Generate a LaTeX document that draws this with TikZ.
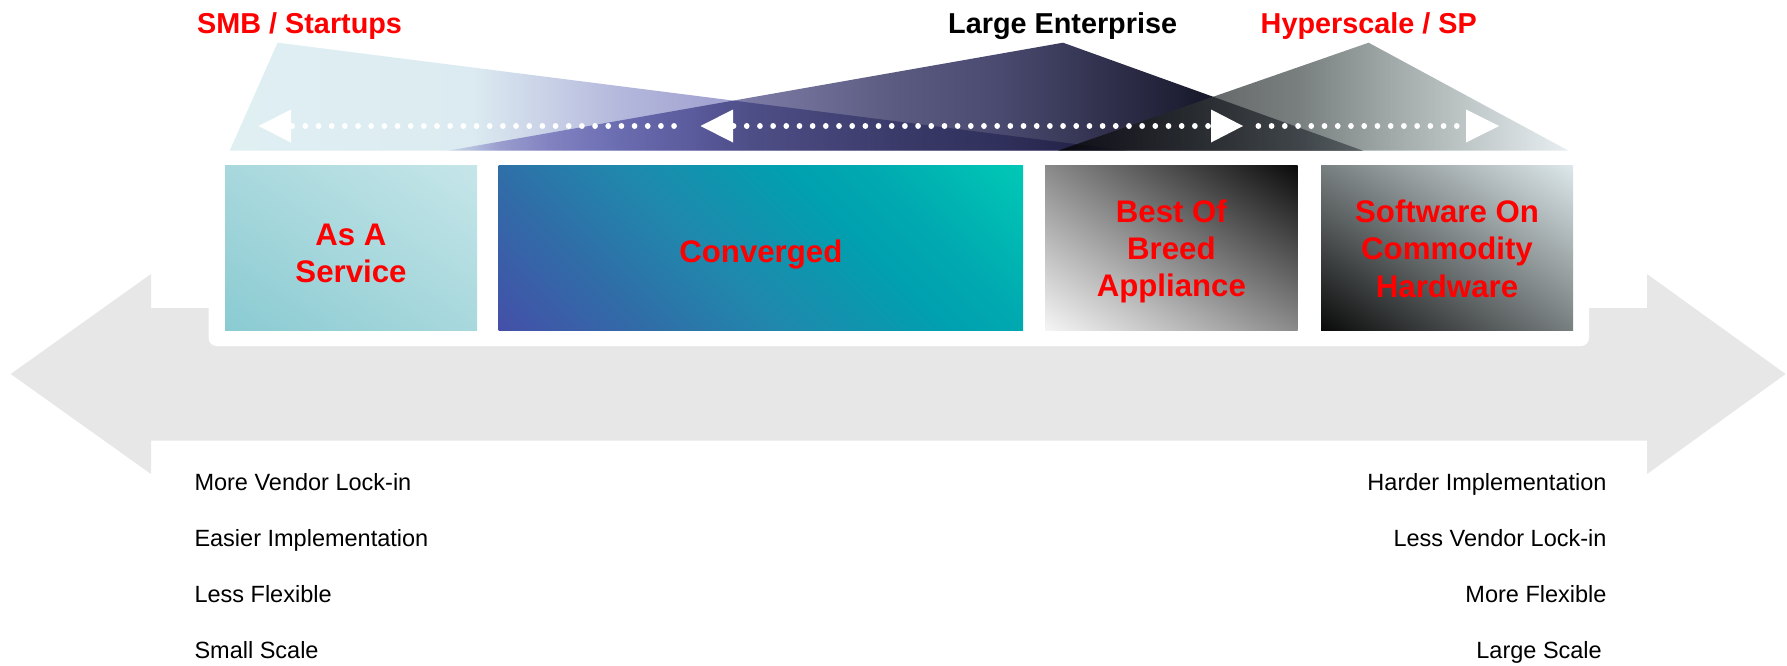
\documentclass[tikz,border=0pt]{standalone}
\usepackage{fontspec}
\setmainfont{Liberation Sans}
\usetikzlibrary{shadings}
\definecolor{arrowgray}{HTML}{E7E7E7}
\definecolor{lblred}{HTML}{FF0000}
% SMB triangle colours
\definecolor{smbA}{HTML}{DFEFF2}
\definecolor{smbB}{HTML}{DCEBF1}
\definecolor{smbC}{HTML}{C8D0E6}
\definecolor{smbD}{HTML}{B4B8DC}
\definecolor{smbE}{HTML}{A4A4D2}
\definecolor{smbF}{HTML}{A8A8D4}
% LE triangle colours
\definecolor{leA}{HTML}{E8EAF5}
\definecolor{leB}{HTML}{B8B2DE}
\definecolor{leC}{HTML}{A6A0D6}
\definecolor{leD}{HTML}{9B9AD1}
\definecolor{leE}{HTML}{8989BB}
\definecolor{leF}{HTML}{7A7AA5}
\definecolor{leG}{HTML}{5A5A80}
\definecolor{leH}{HTML}{4A4A70}
\definecolor{leI}{HTML}{1A1A2E}
\definecolor{leJ}{HTML}{161626}
% HS triangle colours
\definecolor{hsA}{HTML}{000000}
\definecolor{hsB}{HTML}{2F3333}
\definecolor{hsC}{HTML}{4D5555}
\definecolor{hsD}{HTML}{808B8B}
\definecolor{hsE}{HTML}{A0ABAB}
\definecolor{hsF}{HTML}{CBD5D8}
\definecolor{hsG}{HTML}{E0E8EB}
% box colours
\definecolor{bxaLL}{HTML}{8ACBD2}
\definecolor{bxaM}{HTML}{A8D8DD}
\definecolor{bxaUR}{HTML}{C6E6E9}
\definecolor{cvA}{HTML}{4450A8}
\definecolor{cvB}{HTML}{2E70A8}
\definecolor{cvC}{HTML}{2088AC}
\definecolor{cvD}{HTML}{00A0B0}
\definecolor{cvE}{HTML}{00A8B0}
\definecolor{cvF}{HTML}{00C8B6}
\definecolor{bxcLL}{HTML}{F5F5F5}
\definecolor{bxcM}{HTML}{8A8A8A}
\definecolor{bxcUR}{HTML}{0A0A0A}
\definecolor{bxdLL}{HTML}{0A0A0A}
\definecolor{bxdM}{HTML}{787F80}
\definecolor{bxdUR}{HTML}{DDE8EA}
\pgfdeclarehorizontalshading{smbshade}{100bp}{color(0bp)=(smbA); color(25bp)=(smbA); color(38.4bp)=(smbB); color(42.8bp)=(smbC); color(46.7bp)=(smbD); color(51.7bp)=(smbE); color(75bp)=(smbF); color(100bp)=(smbF)}
\pgfdeclarehorizontalshading{leshade}{100bp}{color(0bp)=(leA); color(25bp)=(leA); color(27.84bp)=(leB); color(30.57bp)=(leC); color(33.3bp)=(leD); color(38.77bp)=(leE); color(41.5bp)=(leF); color(49.7bp)=(leG); color(55.16bp)=(leH); color(66.1bp)=(leI); color(75bp)=(leJ); color(100bp)=(leJ)}
\pgfdeclarehorizontalshading{hsshade}{100bp}{color(0bp)=(hsA); color(25bp)=(hsA); color(38.9bp)=(hsB); color(48.7bp)=(hsC); color(57.5bp)=(hsD); color(63.4bp)=(hsE); color(71.2bp)=(hsF); color(75bp)=(hsG); color(100bp)=(hsG)}
\pgfdeclarehorizontalshading{convshade}{100bp}{color(0bp)=(cvA); color(26.76bp)=(cvA); color(37.92bp)=(cvB); color(45.83bp)=(cvC); color(57.18bp)=(cvD); color(62.14bp)=(cvE); color(73.24bp)=(cvF); color(100bp)=(cvF)}
\newcommand\mytitlefont{\fontsize{28.8}{34}\selectfont\bfseries}
\newcommand\myboxfont{\fontsize{31.2}{37.4}\selectfont\bfseries}
\newcommand\mysmallfont{\fontsize{23.5}{28}\selectfont}
\tikzset{
  panelbox/.style={draw=none, inner sep=0pt, minimum height=165pt},
  boxtext/.style={inner sep=0pt, text=lblred, font=\myboxfont, align=center},
  toplabel/.style={anchor=base west, inner sep=0pt, font=\mytitlefont},
  sidetext/.style={inner sep=0pt, font=\mysmallfont, text=black},
  dotrow/.style={white, line width=5.6pt, line cap=round},
  headtip/.style={fill=white, draw=none}
}
\begin{document}
\begin{tikzpicture}[x=1pt,y=-1pt]
\useasboundingbox (0,0) rectangle (1787,665);
% big grey double arrow
\fill[arrowgray] (10.7,374) -- (151,274) -- (151,308) -- (1647,308) -- (1647,274) -- (1785.6,374) -- (1647,474) -- (1647,440.7) -- (151,440.7) -- (151,474) -- cycle;
% white panel
\fill[white, rounded corners=8pt] (208.6,155) rectangle (1589,346);
% triangles
\coordinate (smbL) at (229.7,150.7);
\coordinate (smbT) at (277.6,42.7);
\coordinate (smbR) at (1128,150.7);
\coordinate (leL) at (448,150.7);
\coordinate (leT) at (1063,42.7);
\coordinate (leR) at (1363,150.7);
\coordinate (hsL) at (1058,150.7);
\coordinate (hsT) at (1368.6,42.7);
\coordinate (hsR) at (1568.5,150.7);
\shade[shading=smbshade] (smbL) -- (smbT) -- (smbR) -- cycle;
\begin{scope}[blend mode=multiply]
\shade[shading=leshade] (leL) -- (leT) -- (leR) -- cycle;
\end{scope}
\begin{scope}[opacity=0.75]
\shade[shading=hsshade] (hsL) -- (hsT) -- (hsR) -- cycle;
\end{scope}
% dotted arrows
\coordinate (d1a) at (292.1,126);
\coordinate (d1b) at (674.2,126);
\coordinate (d2a) at (733.5,126);
\coordinate (d2b) at (1208.2,126);
\coordinate (d3a) at (1258.3,126);
\coordinate (d3b) at (1456.8,126);
\draw[dotrow, dash pattern=on 0.1pt off 13.07pt] (d1a) -- (d1b);
\draw[dotrow, dash pattern=on 0.1pt off 13.08pt] (d2a) -- (d2b);
\draw[dotrow, dash pattern=on 0.1pt off 13.13pt] (d3a) -- (d3b);
\fill[headtip] (258.5,126) -- (291,109.5) -- (291,142.5) -- cycle;
\fill[headtip] (700.5,126) -- (733,109.5) -- (733,142.5) -- cycle;
\fill[headtip] (1243,126) -- (1211,109.5) -- (1211,142.5) -- cycle;
\fill[headtip] (1499,126) -- (1466,109.5) -- (1466,142.5) -- cycle;
% boxes
\node[panelbox, shade, minimum width=252pt, lower left=bxaLL, upper right=bxaUR, upper left=bxaM, lower right=bxaM] (aas) at (351,247.5) {};
\node[panelbox, minimum width=524.3pt, path picture={\shade[shading=convshade, shading angle=45] ([shift={(-262.15,-262.15)}]path picture bounding box.center) rectangle ++(524.3,524.3);}] (conv) at (760.85,247.5) {};
\node[panelbox, shade, minimum width=252.7pt, lower left=bxcLL, upper right=bxcUR, upper left=bxcM, lower right=bxcM] (bob) at (1171.35,247.5) {};
\node[panelbox, shade, minimum width=252pt, lower left=bxdLL, upper right=bxdUR, upper left=bxdM, lower right=bxdM] (soc) at (1447,247.5) {};
\node[boxtext] (aast) at ([yshift=-6pt]aas.center) {As A\\Service};
\node[boxtext] (convt) at ([yshift=-6.5pt]conv.center) {Converged};
\node[boxtext] (bobt) at ([yshift=-4pt]bob.center) {Best Of\\Breed\\Appliance};
\node[boxtext] (soct) at ([yshift=-1pt]soc.center) {Software On\\Commodity\\Hardware};
% top labels
\node[toplabel, text=lblred] (smb) at (197,33) {SMB / Startups};
\node[toplabel, text=black] (lent) at (948,33) {Large Enterprise};
\node[toplabel, text=lblred] (hyp) at (1260.5,33) {Hyperscale / SP};
% bottom texts
\node[sidetext, anchor=base west] (l1) at (194.3,490) {More Vendor Lock-in};
\node[sidetext, anchor=base west] (l2) at (194.3,546.7) {Easier Implementation};
\node[sidetext, anchor=base west] (l3) at (194.3,602.7) {Less Flexible};
\node[sidetext, anchor=base west] (l4) at (194.3,658.3) {Small Scale};
\node[sidetext, anchor=base east] (r1) at (1606.7,490) {Harder Implementation};
\node[sidetext, anchor=base east] (r2) at (1606.7,546.7) {Less Vendor Lock-in};
\node[sidetext, anchor=base east] (r3) at (1606.7,602.7) {More Flexible};
\node[sidetext, anchor=base east] (r4) at (1602,658.3) {Large Scale};
\end{tikzpicture}
\end{document}
